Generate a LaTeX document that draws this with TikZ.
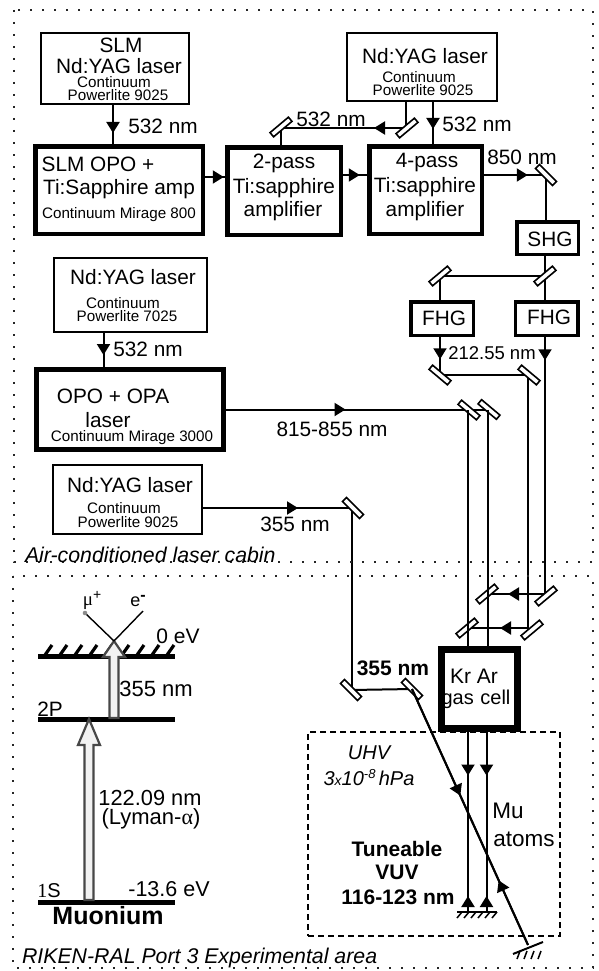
\documentclass[tikz,border=0pt]{standalone}
\usepackage{fontspec}
\setmainfont{Liberation Sans}
\newfontfamily\serifgr{Liberation Serif}
\usetikzlibrary{arrows.meta,decorations.markings,calc}
\pgfdeclarelayer{background}
\pgfsetlayers{background,main}
\newcommand\fszL{\fontsize{20.8}{22}\selectfont}
\newcommand\fszM{\fontsize{18.5}{20}\selectfont}
\newcommand\fszS{\fontsize{15.2}{13}\selectfont}
\newcommand\fszB{\fontsize{21.5}{23}\selectfont}
\tikzset{
  x=1pt,y=-1pt,
  txt/.style={inner sep=0pt,outer sep=0pt,font=\fszL},
  small/.style={inner sep=0pt,outer sep=0pt,font=\fszS},
  boldtxt/.style={inner sep=0pt,outer sep=0pt,font=\fontsize{21}{23}\selectfont\bfseries},
  itxt/.style={inner sep=0pt,outer sep=0pt,font=\fontsize{21.3}{23}\selectfont\itshape},
  thinbox/.style={draw=black,line width=2pt,fill=white,inner sep=0pt,outer sep=0pt},
  midbox/.style={draw=black,line width=3.5pt,fill=white,inner sep=0pt,outer sep=0pt},
  thickbox/.style={draw=black,line width=4.5pt,fill=white,inner sep=0pt,outer sep=0pt},
  gasbox/.style={draw=black,line width=7pt,inner sep=0pt,outer sep=0pt},
  area/.style={draw=black!85,line width=1.5pt,dash pattern=on 2pt off 10pt},
  uhvbox/.style={draw=black,line width=2pt,dash pattern=on 6pt off 4pt,inner sep=0pt,outer sep=0pt},
  mirror/.style={draw=black,line width=1.6pt,fill=white,inner sep=0pt,outer sep=0pt,minimum width=24pt,minimum height=5.5pt},
  beam/.style={draw=black,line width=2pt},
  thinbeam/.style={draw=black,line width=1.4pt},
  arr/.style={postaction={decorate,decoration={markings,mark=at position #1 with {\arrow{Triangle[length=11pt,width=13pt]}}}}},
  level/.style={fill=black,inner sep=0pt,outer sep=0pt,minimum width=137pt,minimum height=5pt},
  hatch/.style={draw=black,line width=3.2pt},
  fhatch/.style={draw=black,line width=1.5pt},
  levarr/.style={draw=black!72,line width=2.2pt,fill=black!5,line join=miter},
}
\newcommand\levarrow[3]{\draw[levarr] let \p1=(#1),\p2=(#2) in
  (\x1-4.5pt,\y1) -- (\x1-4.5pt,\y2-#3pt) -- (\x1-11pt,\y2-#3pt) -- (\x1,\y2) -- (\x1+11pt,\y2-#3pt) -- (\x1+4.5pt,\y2-#3pt) -- (\x1+4.5pt,\y1) -- cycle;}
\begin{document}
\begin{tikzpicture}
\useasboundingbox (0,0) rectangle (598,971);
% areas
\draw[area] (14,10) rectangle (593,562);
\draw[area] (13,576) rectangle (593,968);
\node[uhvbox,minimum width=252pt,minimum height=204pt] (uhv) at (434,834) {};
% boxes
\node[thinbox,minimum width=148pt,minimum height=71pt] (ya1) at (115,68.5) {};
\node[thickbox,minimum width=167.5pt,minimum height=87.5pt] (opo1) at (119,190) {};
\node[thickbox,minimum width=113.5pt,minimum height=87.5pt] (amp2) at (284,191) {};
\node[thinbox,minimum width=149.5pt,minimum height=68pt] (ya2) at (422,67) {};
\node[thickbox,minimum width=112.5pt,minimum height=87.5pt] (amp4) at (425.5,190) {};
\node[midbox,minimum width=61.5pt,minimum height=32.5pt] (shg) at (547.5,238) {};
\node[midbox,minimum width=62.5pt,minimum height=33.5pt] (fhgl) at (442,318.5) {};
\node[midbox,minimum width=62.5pt,minimum height=33.5pt] (fhgr) at (546.5,318.5) {};
\node[thinbox,minimum width=153pt,minimum height=74pt] (ya3) at (130.5,295) {};
\node[thickbox,line width=5pt,minimum width=187pt,minimum height=80pt] (opo2) at (130,409.5) {};
\node[thinbox,minimum width=149pt,minimum height=69pt] (ya4) at (127.5,499.5) {};
% gas cell text goes under its border
\node[txt,font=\fontsize{21}{22}\selectfont] (krar) at (474,676) {Kr Ar};
\node[txt,font=\fontsize{20}{22}\selectfont] (gascell) at (476,699) {gas\hspace{1pt} cell};
\node[gasbox,minimum width=76pt,minimum height=79pt] (gas) at (479.5,689) {};
% mirrors
\node[mirror,rotate=40] (m2p) at (281,127) {};
\node[mirror,rotate=40] (mtop) at (407,128) {};
\node[mirror,rotate=-45] (mf) at (546,175) {};
\node[mirror,rotate=40] (ms) at (545,276) {};
\node[mirror,rotate=40] (ml) at (440,276) {};
\node[mirror,rotate=-40] (mll) at (440,375) {};
\node[mirror,rotate=-40] (mlr) at (529,375) {};
\node[mirror,rotate=-40] (mc1) at (469,410) {};
\node[mirror,rotate=-40] (mc2) at (489,409.5) {};
\node[mirror,rotate=-45] (mn) at (353,508) {};
\node[mirror,rotate=40] (mb3) at (487,594) {};
\node[mirror,rotate=40] (mr) at (546,596) {};
\node[mirror,rotate=40] (mb2) at (467,628) {};
\node[mirror,rotate=40] (mb1) at (532,630) {};
\node[mirror,rotate=-45] (m355a) at (351,690) {};
\node[mirror,rotate=-45] (m355b) at (412,689) {};
\coordinate (gnd1) at (477,912);
\coordinate (gnd2) at (528,945);
\begin{pgfonlayer}{background}
\draw[beam,arr=29pt] ([xshift=-2pt]ya1.south) -- ([xshift=-6pt]opo1.north);
\draw[beam,arr=23pt] ([xshift=-27pt]ya3.south) -- ([xshift=-26.5pt]opo2.north);
\draw[beam,arr=21pt] ([yshift=13pt]opo1.east) -- ([yshift=14pt]amp2.west);
\draw[beam,arr=19pt] ([yshift=16pt]amp2.east) -- ([yshift=15pt]amp4.west);
\draw[beam] (m2p.center) -- (m2p.center |- amp2.north);
\draw[beam] ([xshift=-16pt]ya2.south) -- ([xshift=-16pt]ya2.south |- mtop);
\draw[beam,arr=33pt] (mtop.center) -- (mtop.center -| m2p.center);
\draw[beam,arr=28pt] ([xshift=11pt]ya2.south) -- ([xshift=7.5pt]amp4.north);
\draw[beam,arr=46pt] ([yshift=15pt]amp4.east) -- (mf.center);
\draw[beam] (mf.center) -- ([xshift=-1.5pt]shg.north);
\draw[beam] ([xshift=-2.5pt]shg.south) -- ([xshift=-1.5pt]fhgr.north);
\draw[beam] (ms.center) -- (ml.center);
\draw[beam] (ml.center) -- ([xshift=-2pt]fhgl.north);
\draw[beam,arr=24pt] ([xshift=-2pt]fhgl.south) -- (mll.center);
\draw[beam] (mll.center) -- (mlr.center);
\draw[beam] ([xshift=-1pt]mlr.center) -- ([xshift=-1pt]mlr.center |- mb1);
\draw[beam,arr=28pt] ([xshift=-1pt]mlr.center |- mb2) -- (mb2.center);
\draw[beam,arr=25pt] ([xshift=-1.5pt]fhgr.south) -- ([xshift=-1.5pt]fhgr.south |- mr);
\draw[beam,arr=38pt] (mr.center |- mb3) -- (mb3.center);
\draw[beam,arr=122pt] (opo2.east) -- (mc2.center);
\draw[beam,arr=96pt] ([yshift=-8.5pt]ya4.east) -- (mn.center);
\draw[beam] ([xshift=-1pt]mn.center) -- ([xshift=-1pt]mn.center |- m355a);
\draw[beam] (m355a.center) -- (m355b.center);
\end{pgfonlayer}
% beams that run over the mirrors
\draw[beam] ([xshift=-1pt]mc1.center) -- ([xshift=-1pt]mc1.center |- gas.north);
\draw[beam] ([xshift=-1pt]mc2.center) -- ([xshift=-1pt]mc2.center |- gas.north);
\draw[beam,arr=47pt] ([xshift=-11.5pt]gas.south) -- ([xshift=-11.5pt]gas.south |- gnd1);
\draw[beam,arr=47pt] ([xshift=7pt]gas.south) -- ([xshift=7pt]gas.south |- gnd1);
\draw[beam,arr=16pt] ([xshift=-11.5pt]gas.south |- gnd1) -- ([xshift=-11.5pt]gas.south);
\draw[beam,arr=16pt] ([xshift=7pt]gas.south |- gnd1) -- ([xshift=7pt]gas.south);
\draw[beam,arr=117pt] (m355b.center) -- (gnd2);
\draw[beam,arr=71pt] (gnd2) -- (m355b.center);
% grounds
\draw[beam] (457,912) -- (497,912);
\foreach \g in {462,469,476,483,490,497} \draw[fhatch] (\g,912) -- (\g-5,918);
\draw[beam] (513,954) -- (543,942);
\foreach \g in {520,527,534,541} \draw[fhatch] (\g,951) -- (\g-3,959);
% labels in boxes
\node[txt] (t1) at (121,45) {SLM};
\node[txt] (t2) at (119,66) {Nd:YAG laser};
\node[small] (t3) at (114,82) {Continuum};
\node[small] (t4) at (118,95) {Powerlite 9025};
\node[txt] (t5) at (163,126) {532 nm};
\node[txt] (t6) at (98,164) {SLM OPO +};
\node[txt] (t7) at (119,189) {Ti:Sapphire amp};
\node[small] (t8) at (119,215) {Continuum Mirage 800};
\node[txt] (t9) at (284,163) {2-pass};
\node[txt] (t10) at (284,188) {Ti:sapphire};
\node[txt] (t11) at (283,211) {amplifier};
\node[txt] (t12) at (331,119) {532 nm};
\node[txt] (t13) at (425,56) {Nd:YAG laser};
\node[small] (t14) at (419,77) {Continuum};
\node[small] (t15) at (423,90) {Powerlite 9025};
\node[txt] (t16) at (477,124) {532 nm};
\node[txt] (t17) at (427,163) {4-pass};
\node[txt] (t18) at (425,187) {Ti:sapphire};
\node[txt] (t19) at (425,211) {amplifier};
\node[txt] (t20) at (522,157) {850 nm};
\node[txt] (t21) at (550,239) {SHG};
\node[txt] (t22) at (444,318) {FHG};
\node[txt] (t23) at (549,317) {FHG};
\node[txt,font=\fszM] (t24) at (492,353) {212.55 nm};
\node[txt] (t25) at (133,277) {Nd:YAG laser};
\node[small] (t26) at (123,303) {Continuum};
\node[small] (t27) at (127,316) {Powerlite 7025};
\node[txt] (t28) at (148,349) {532 nm};
\node[txt] (t29) at (113,396) {OPO + OPA};
\node[txt] (t30) at (108,420) {laser};
\node[small] (t31) at (132,438) {Continuum Mirage 3000};
\node[txt] (t32) at (332,429) {815-855 nm};
\node[txt] (t33) at (130,485) {Nd:YAG laser};
\node[small] (t34) at (124,508) {Continuum};
\node[small] (t35) at (128,522) {Powerlite 9025};
\node[txt] (t36) at (295,524) {355 nm};
\node[itxt,anchor=west] (t37) at (25,555) {Air-conditioned laser cabin};
\node[itxt,anchor=west] (t38) at (22,958) {RIKEN-RAL Port 3 Experimental area};
\node[boldtxt] (t39) at (393,668) {355 nm};
\node[itxt,font=\fontsize{20}{22}\selectfont\itshape] (t40) at (369,753) {UHV};
\node[itxt,font=\fontsize{20}{22}\selectfont\itshape] (t41) at (369,778) {3{\fontsize{14}{15}\selectfont x}10\raisebox{7pt}{\fontsize{13}{14}\selectfont -8}\,hPa};
\node[txt,font=\fontsize{22.5}{24}\selectfont] (t42) at (508,811) {Mu};
\node[txt,font=\fontsize{22.5}{24}\selectfont] (t43) at (524,839) {atoms};
\node[boldtxt] (t44) at (397,849) {Tuneable};
\node[boldtxt] (t45) at (397,872) {VUV};
\node[boldtxt] (t46) at (398,897) {116-123 nm};
% energy levels
\node[level] (l0) at (106.5,656) {};
\node[level] (l2p) at (106.5,719) {};
\node[level] (l1s) at (106.5,902) {};
\foreach \h in {45,60,75,90,105,122,137,152,167} \draw[hatch] (\h,655) -- (\h+7,645);
\coordinate (a1) at (89,900);
\coordinate (a1t) at (89,719);
\coordinate (a2) at (114,718);
\coordinate (a2t) at (114,641);
\levarrow{a1}{a1t}{26}
\levarrow{a2}{a2t}{16}
\coordinate (muend) at (85,613);
\coordinate (eend) at (143,611);
\draw[thinbeam] (a2t) -- (muend);
\draw[thinbeam] (a2t) -- (eend);
\fill[black!45] (muend) circle (2.3pt);
\node[txt,font=\fontsize{19}{20}\selectfont] (mu) at (92,600) {{\serifgr μ}\raisebox{6pt}{\fontsize{14}{15}\selectfont +}};
\node[txt,font=\fontsize{18}{19}\selectfont] (el) at (138,601) {e\raisebox{6pt}{\bfseries\fontsize{16}{16}\selectfont -}};
\node[txt,font=\fontsize{21}{22}\selectfont] (t50) at (178,636) {0 eV};
\node[txt,font=\fontsize{22}{23}\selectfont] (t51) at (156,689) {355 nm};
\node[txt] (t52) at (50,709) {2P};
\node[txt,font=\fontsize{21.8}{23}\selectfont] (t53) at (150,798) {122.09 nm};
\node[txt,font=\fontsize{22}{23}\selectfont] (t54) at (151,819) {(Lyman-{\serifgr α})};
\node[txt,font=\fontsize{20}{21}\selectfont] (t55) at (49,891) {{\serifgr 1}S};
\node[txt,font=\fontsize{21.5}{23}\selectfont] (t56) at (169,889) {-13.6 eV};
\node[boldtxt,font=\fontsize{25}{27}\selectfont\bfseries] (t57) at (108,916) {Muonium};
\end{tikzpicture}
\end{document}
